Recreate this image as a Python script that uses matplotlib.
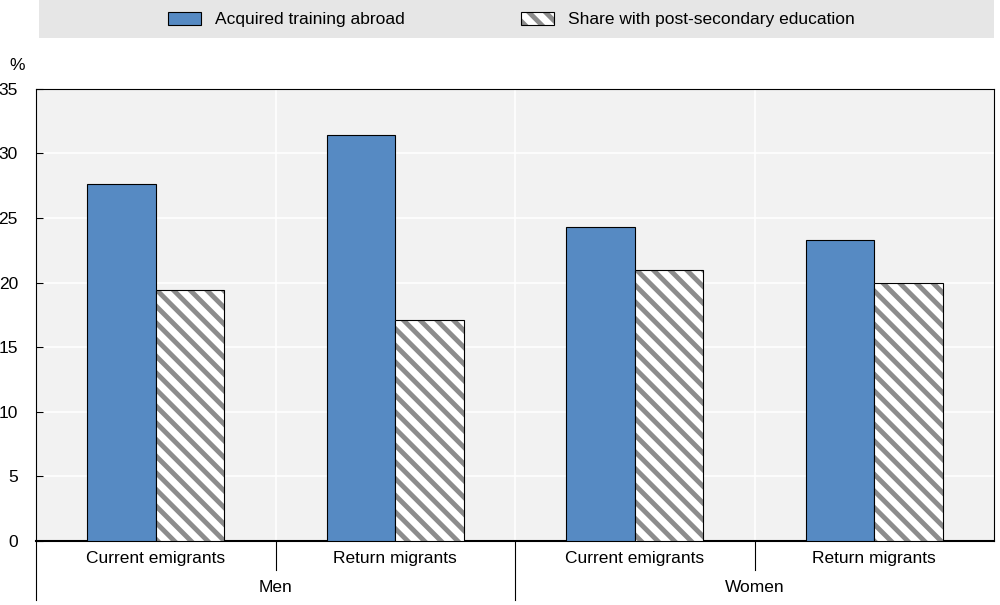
import numpy as np
import matplotlib.pyplot as plt
from matplotlib.patches import Rectangle, Patch
from matplotlib.lines import Line2D
from matplotlib.legend_handler import HandlerTuple

groups = ["Men", "Women"]
categories = ["Current emigrants", "Return migrants", "Current emigrants", "Return migrants"]
training_abroad = [27.6, 31.4, 24.3, 23.3]
post_secondary = [19.4, 17.1, 21.0, 20.0]
yticks = [0, 5, 10, 15, 20, 25, 30, 35]

plt.rcParams['font.family'] = ['Liberation Sans', 'DejaVu Sans']
plt.rcParams['hatch.linewidth'] = 3.5

blue = '#568ac3'
hatch_gray = '#8c8c8c'
fs = 12.5

fig = plt.figure(figsize=(10, 6.05), dpi=100)
ax = fig.add_axes([0.036, 0.106, 0.958, 0.747])

x = np.arange(len(categories))
w = 0.287
ax.bar(x - w / 2, training_abroad, w, color=blue, edgecolor='black', linewidth=0.8, zorder=3)
# hatch drawn in gray, outline overlaid in black
ax.bar(x + w / 2, post_secondary, w, color='white', edgecolor=hatch_gray, linewidth=0,
       hatch='\\\\', zorder=3)
ax.bar(x + w / 2, post_secondary, w, color='none', edgecolor='black', linewidth=0.8, zorder=4)

ax.set_facecolor('#f2f2f2')
ax.set_xlim(-0.5, len(categories) - 0.5)
ax.set_ylim(0, 35)
ax.set_yticks(yticks)
ax.yaxis.grid(True, color='white', linewidth=1.2, zorder=0)
for sep in [0.5, 1.5, 2.5]:
    ax.axvline(sep, color='white', linewidth=1.2, zorder=1)
ax.tick_params(axis='y', direction='in', length=5, labelsize=fs, pad=13)
ax.tick_params(axis='x', length=0, labelbottom=False)
for s in ['top', 'right', 'left']:
    ax.spines[s].set_linewidth(0.8)
ax.spines['bottom'].set_linewidth(1.5)
ax.text(-0.028, 1.035, '%', transform=ax.transAxes, fontsize=fs, ha='left', va='bottom')

# category labels and separators below the axis
for i, c in enumerate(categories):
    ax.annotate(c, xy=(x[i], 0), xycoords=('data', 'axes fraction'), xytext=(0, -7),
                textcoords='offset points', ha='center', va='top', fontsize=fs)
for i, g in enumerate(groups):
    ax.annotate(g, xy=(2 * i + 0.5, 0), xycoords=('data', 'axes fraction'), xytext=(0, -28),
                textcoords='offset points', ha='center', va='top', fontsize=fs)
trans = ax.get_xaxis_transform()
for sep in [0.5, 2.5]:
    ax.add_line(Line2D([sep, sep], [0, -0.064], transform=trans, color='black',
                       linewidth=0.8, clip_on=False))
for sep in [-0.5, 1.5]:
    ax.add_line(Line2D([sep, sep], [0, -0.131], transform=trans, color='black',
                       linewidth=0.8, clip_on=False))

# legend band
fig.patches.append(Rectangle((0.039, 0.937), 0.955, 0.063, transform=fig.transFigure,
                             facecolor='#e6e6e6', edgecolor='none', zorder=0))
h_blue = Patch(facecolor=blue, edgecolor='black', linewidth=0.8)
h_hatch = (Patch(facecolor='white', edgecolor=hatch_gray, linewidth=0, hatch='\\\\'),
           Patch(facecolor='none', edgecolor='black', linewidth=0.8))
fig.legend([h_blue, h_hatch], ['Acquired training abroad', 'Share with post-secondary education'],
           handler_map={tuple: HandlerTuple(ndivide=1, pad=0)},
           loc='center left', bbox_to_anchor=(0.168, 0.968), ncol=2, frameon=False,
           fontsize=fs, handlelength=1.9, handleheight=0.8, handletextpad=0.8,
           columnspacing=6.7, borderpad=0, borderaxespad=0)

fig.savefig('out.png', dpi=100)
